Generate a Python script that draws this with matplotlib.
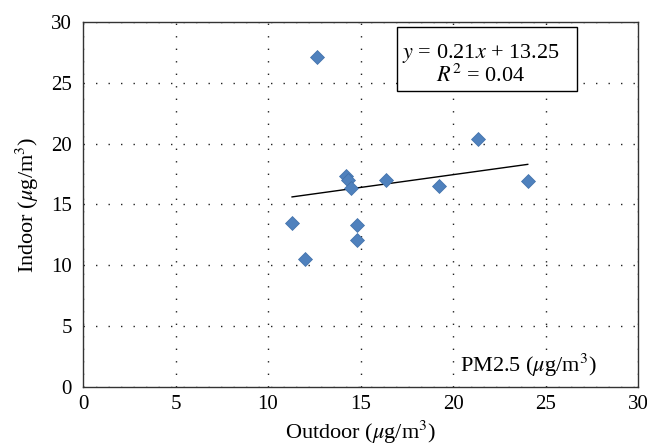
import matplotlib
matplotlib.use("Agg")
import numpy as np
import matplotlib.pyplot as plt
from matplotlib.patches import Rectangle

plt.rcParams['font.family'] = ['Liberation Serif', 'DejaVu Serif']
plt.rcParams['mathtext.fontset'] = 'stix'

# PM2.5 indoor vs outdoor
outdoor = [12.65, 21.35, 14.2, 14.34, 14.47, 16.36, 19.26, 24.04, 11.3, 14.79, 14.79, 12.0]
indoor = [27.1, 20.4, 17.35, 17.05, 16.35, 17.05, 16.55, 16.95, 13.5, 13.35, 12.1, 10.5]
slope = 0.21
intercept = 13.25
r2 = 0.04
ticks = [0, 5, 10, 15, 20, 25, 30]

fig = plt.figure(figsize=(6.47, 4.46), dpi=100)
ax = fig.add_axes([0.1283, 0.1323, 0.8578, 0.8184])

ax.plot(outdoor, indoor, 'D', color='#4F81BD', markersize=7.5,
        markeredgecolor='#3F6FA8', markeredgewidth=0.5, zorder=3)

# trend line over data range
xs = np.array([min(outdoor), max(outdoor)])
ax.plot(xs, slope * xs + intercept, color='black', linewidth=1, zorder=2)

ax.set_xlim(0, 30)
ax.set_ylim(0, 30)
ax.set_xticks(ticks)
ax.set_yticks(ticks)
ax.tick_params(axis='both', length=0, labelsize=15)
ax.tick_params(axis='y', pad=8)
ax.tick_params(axis='x', pad=6)
ax.grid(True, color='#222222', linestyle=(0, (1, 8)), linewidth=1)
for s in ax.spines.values():
    s.set_linewidth(1)
    s.set_color('#333333')

ax.set_xlabel(r'Outdoor ($\mu$g/m$^3$)', fontsize=16, labelpad=3)
ax.set_ylabel(r'Indoor ($\mu$g/m$^3$)', fontsize=16, labelpad=7)

# equation box
ax.add_patch(Rectangle((16.97, 24.3), 9.73, 5.3, facecolor='white',
                       edgecolor='black', linewidth=1, zorder=4))
ax.text(21.5, 27.4, '$y$ = %.2f$x$ + %.2f' % (slope, intercept),
        ha='center', va='center', fontsize=16, zorder=5)
ax.text(21.5, 25.6, '$R^2$ = %.2f' % r2,
        ha='center', va='center', fontsize=16, zorder=5)

ax.text(20.4, 1.8, r'PM2.5 ($\mu$g/m$^3$)', ha='left', va='center', fontsize=16)

fig.savefig('out.png', dpi=100)
